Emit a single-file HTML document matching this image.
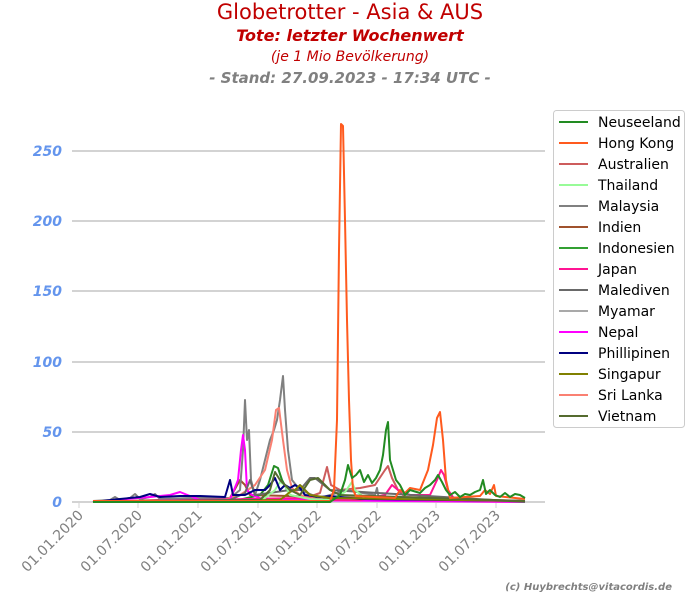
<!DOCTYPE html>
<html><head><meta charset="utf-8"><style>
body{margin:0;background:#fff;}
svg{display:block;font-family:"DejaVu Sans","Liberation Sans",sans-serif;}
</style></head><body>
<svg width="700" height="600" viewBox="0 0 700 600" xmlns="http://www.w3.org/2000/svg">
<text x="350" y="19" text-anchor="middle" font-size="21" fill="#c00000">Globetrotter - Asia &amp; AUS</text>
<text x="350" y="41" text-anchor="middle" font-size="16" font-weight="bold" font-style="italic" fill="#c00000">Tote: letzter Wochenwert</text>
<text x="350" y="61" text-anchor="middle" font-size="14" font-style="italic" fill="#c00000">(je 1 Mio Bevölkerung)</text>
<text x="350" y="83" text-anchor="middle" font-size="15" font-weight="bold" font-style="italic" fill="#808080">- Stand: 27.09.2023 - 17:34 UTC -</text>
<g stroke="#d3d3d3" stroke-width="2">
<line x1="72" y1="151" x2="545" y2="151"/><line x1="72" y1="221" x2="545" y2="221"/><line x1="72" y1="291" x2="545" y2="291"/><line x1="72" y1="362" x2="545" y2="362"/><line x1="72" y1="432" x2="545" y2="432"/><line x1="72" y1="502" x2="545" y2="502"/>
</g>
<g font-size="14" font-weight="bold" font-style="italic" fill="#6495ed" text-anchor="end">
<text x="62" y="156">250</text><text x="62" y="226">200</text><text x="62" y="296">150</text><text x="62" y="367">100</text><text x="62" y="437">50</text><text x="62" y="507">0</text>
</g>
<g stroke="#d3d3d3" stroke-width="1">
<line x1="79" y1="502" x2="79" y2="508"/><line x1="138" y1="502" x2="138" y2="508"/><line x1="198" y1="502" x2="198" y2="508"/><line x1="258" y1="502" x2="258" y2="508"/><line x1="317" y1="502" x2="317" y2="508"/><line x1="377" y1="502" x2="377" y2="508"/><line x1="436" y1="502" x2="436" y2="508"/><line x1="496" y1="502" x2="496" y2="508"/>
</g>
<g font-size="14" fill="#808080" text-anchor="end">
<text transform="translate(84,516) rotate(-45)">01.01.2020</text>
<text transform="translate(143,516) rotate(-45)">01.07.2020</text>
<text transform="translate(203,516) rotate(-45)">01.01.2021</text>
<text transform="translate(263,516) rotate(-45)">01.07.2021</text>
<text transform="translate(322,516) rotate(-45)">01.01.2022</text>
<text transform="translate(382,516) rotate(-45)">01.07.2022</text>
<text transform="translate(441,516) rotate(-45)">01.01.2023</text>
<text transform="translate(501,516) rotate(-45)">01.07.2023</text>
</g>
<g fill="none" stroke-width="2" stroke-linejoin="round">
<polyline stroke="#cd5c5c" points="93,502 300,500 320,493 327,467 331,485 340,490 360,488 375,485 385,470 388,466 392,478 398,490 405,497 525,501"/>
<polyline stroke="#a0522d" points="93,502 230,498 240,480 245,485 250,495 525,502"/>
<polyline stroke="#228b22" points="93,502 230,502 260,495 268,485 274,466 278,468 282,480 290,495 300,498 525,502"/>
<polyline stroke="#808080" points="93,501 110,500 115,497 120,500 130,498 135,494 140,499 150,497 155,494 160,499 190,498 230,498 240,490 243,450 245,400 247,440 249,430 251,480 255,495 260,480 265,460 270,440 274,430 277,420 280,400 283,376 285,410 288,450 292,480 300,490 320,498 330,495 340,492 345,490 375,495 377,488 379,500 525,501"/>
<polyline stroke="#fa8072" points="93,502 220,501 240,495 255,485 265,470 272,440 276,410 279,408 283,440 287,470 292,488 300,495 320,500 525,502"/>
<polyline stroke="#ff00ff" points="93,502 150,497 170,495 180,492 185,494 200,500 230,500 238,480 241,450 243,435 245,450 247,490 252,495 265,500 525,502"/>
<polyline stroke="#ff1493" points="93,502 300,498 330,500 360,500 385,495 392,485 398,490 410,495 430,495 437,480 441,470 444,475 448,490 455,500 525,501"/>
<polyline stroke="#696969" points="93,502 230,500 245,493 250,480 255,495 290,490 300,490 310,478 315,478 320,482 330,490 525,502"/>
<polyline stroke="#98fb98" points="93,502 260,502 275,490 280,482 285,485 290,495 310,499 330,500 345,492 352,482 355,490 365,498 525,501"/>
<polyline stroke="#000080" points="93,502 120,499 140,497 150,494 160,497 180,496 200,496 225,497 230,480 233,495 245,495 255,490 265,490 270,485 275,478 280,490 285,485 290,488 295,485 300,488 305,495 320,497 330,496 340,497 360,499 525,501"/>
<polyline stroke="#808000" points="93,502 280,500 290,492 295,490 300,485 305,490 310,495 330,498 525,501"/>
<polyline stroke="#556b2f" points="93,502 260,500 270,490 275,472 280,480 290,490 300,495 310,480 318,478 325,485 330,490 340,495 525,501"/>
<polyline stroke="#ff5a1e" points="93,501 330,501 334,490 337,420 339,250 341,124 343,126 345,220 347,320 349,400 351,460 353,490 356,496 395,498 400,490 405,493 410,488 420,490 428,470 433,445 437,418 440,412 443,440 446,480 450,498 480,496 485,490 490,494 494,485 496,496 525,499"/>
<polyline stroke="#228b22" points="93,502 330,502 340,495 345,480 348,465 352,478 356,475 360,470 364,482 368,475 372,483 376,478 380,470 383,455 386,430 388,422 390,460 393,470 396,480 400,485 405,495 410,490 420,493 425,488 430,485 435,480 438,475 442,482 446,490 450,495 455,492 460,497 465,494 470,495 475,492 480,490 483,480 486,494 490,490 495,495 500,497 505,493 510,497 515,494 520,495 525,498"/>
</g>
<rect x="553.5" y="110.5" width="131" height="317" rx="3" fill="#fff" stroke="#ccc"/>
<g stroke-width="2">
<line x1="559" y1="122" x2="588" y2="122" stroke="#228b22"/>
<line x1="559" y1="143" x2="588" y2="143" stroke="#ff5a1e"/>
<line x1="559" y1="164" x2="588" y2="164" stroke="#cd5c5c"/>
<line x1="559" y1="185" x2="588" y2="185" stroke="#98fb98"/>
<line x1="559" y1="206" x2="588" y2="206" stroke="#808080"/>
<line x1="559" y1="227" x2="588" y2="227" stroke="#a0522d"/>
<line x1="559" y1="248" x2="588" y2="248" stroke="#32a032"/>
<line x1="559" y1="269" x2="588" y2="269" stroke="#ff1493"/>
<line x1="559" y1="290" x2="588" y2="290" stroke="#696969"/>
<line x1="559" y1="311" x2="588" y2="311" stroke="#a9a9a9"/>
<line x1="559" y1="332" x2="588" y2="332" stroke="#ff00ff"/>
<line x1="559" y1="353" x2="588" y2="353" stroke="#000080"/>
<line x1="559" y1="374" x2="588" y2="374" stroke="#808000"/>
<line x1="559" y1="395" x2="588" y2="395" stroke="#fa8072"/>
<line x1="559" y1="416" x2="588" y2="416" stroke="#556b2f"/>
</g>
<g font-size="14" fill="#000">
<text x="598" y="127">Neuseeland</text><text x="598" y="148">Hong Kong</text><text x="598" y="169">Australien</text><text x="598" y="190">Thailand</text><text x="598" y="211">Malaysia</text><text x="598" y="232">Indien</text><text x="598" y="253">Indonesien</text><text x="598" y="274">Japan</text><text x="598" y="295">Malediven</text><text x="598" y="316">Myamar</text><text x="598" y="337">Nepal</text><text x="598" y="358">Phillipinen</text><text x="598" y="379">Singapur</text><text x="598" y="400">Sri Lanka</text><text x="598" y="421">Vietnam</text>
</g>
<text x="672" y="590" text-anchor="end" font-size="10" font-weight="bold" font-style="italic" fill="#808080">(c) Huybrechts@vitacordis.de</text>
</svg>
</body></html>
